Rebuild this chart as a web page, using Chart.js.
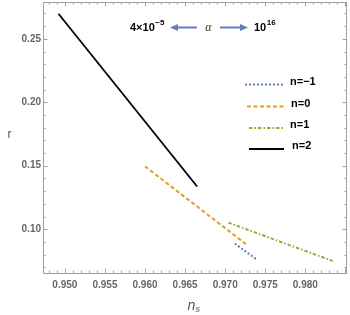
<!DOCTYPE html>
<html>
<head>
<meta charset="utf-8">
<script src="https://cdn.jsdelivr.net/npm/chart.js@4/dist/chart.umd.min.js"></script>
<style>
html,body{margin:0;padding:0;background:#fff;}
#wrap{width:350px;height:315px;}
</style>
</head>
<body>
<div id="wrap"><canvas id="c" width="350" height="315"></canvas></div>
<script>
// ---- data ----
const seriesLabels = ["n=\u22121", "n=0", "n=1", "n=2"];
const nsMinus1 = [0.9712, 0.9739];
const rMinus1  = [0.0887, 0.0763];
const ns0 = [0.9600, 0.9726];
const r0  = [0.1495, 0.0882];
const ns1 = [0.9704, 0.9834];
const r1  = [0.1052, 0.0750];
const ns2 = [0.9492, 0.9665];
const r2  = [0.2697, 0.1336];
const xTicks = [0.950, 0.955, 0.960, 0.965, 0.970, 0.975, 0.980];
const yTicks = [0.10, 0.15, 0.20, 0.25];
const xRange = [0.94727, 0.9852];
const yRange = [0.0655, 0.279];
const alphaLow = "4\u00d710", alphaLowExp = "\u22125";
const alphaHigh = "10", alphaHighExp = "16";

const colors = ["#5e81b5", "#e19c24", "#8fb032", "#000000"];
const dashes = [[2, 2], [4, 2.5], [3.5, 2, 1.5, 2], []];
const widths = [2, 2, 2, 1.8];

function pts(xs, ys) { return xs.map((x, i) => ({x: x, y: ys[i]})); }
const dataSets = [pts(nsMinus1, rMinus1), pts(ns0, r0), pts(ns1, r1), pts(ns2, r2)];

const axisColor = "#a0a0a0";
const tickFont = {family: "'Liberation Sans', Arial, sans-serif", size: 10, weight: "bold"};

const framePlugin = {
  id: "frame",
  afterDraw(chart) {
    const ctx = chart.ctx, a = chart.chartArea;
    const xs = chart.scales.x, ys = chart.scales.y;
    ctx.save();
    ctx.strokeStyle = axisColor;
    ctx.lineWidth = 1;
    // frame
    ctx.strokeRect(a.left + 0.5, a.top + 0.5, a.right - a.left - 1, a.bottom - a.top);
    // ticks
    ctx.beginPath();
    for (let i = 948; i <= 985; i++) {
      const v = i / 1000;
      const px = Math.round(xs.getPixelForValue(v)) + 0.5;
      const major = (i % 5 === 0);
      const L = major ? 4.5 : 2.5;
      ctx.moveTo(px, a.bottom); ctx.lineTo(px, a.bottom - L);
      ctx.moveTo(px, a.top); ctx.lineTo(px, a.top + L);
    }
    for (let i = 7; i <= 27; i++) {
      const v = i / 100;
      const py = Math.round(ys.getPixelForValue(v)) + 0.5;
      const major = (i % 5 === 0);
      const L = major ? 4.5 : 2.5;
      ctx.moveTo(a.left, py); ctx.lineTo(a.left + L, py);
      ctx.moveTo(a.right, py); ctx.lineTo(a.right - L, py);
    }
    ctx.stroke();

    // axis titles
    ctx.fillStyle = "#555";
    ctx.textBaseline = "alphabetic";
    ctx.textAlign = "center";
    ctx.font = "12px 'Liberation Sans', Arial, sans-serif";
    ctx.fillText("r", 9.5, 138);
    ctx.font = "italic 14px 'Liberation Sans', Arial, sans-serif";
    ctx.textAlign = "left";
    ctx.fillText("n", 187.5, 310);
    ctx.font = "italic 9px 'Liberation Sans', Arial, sans-serif";
    ctx.fillText("s", 195.5, 312);

    // alpha annotation
    ctx.fillStyle = "#000";
    ctx.font = "bold 11px 'Liberation Sans', Arial, sans-serif";
    ctx.textBaseline = "alphabetic";
    ctx.fillText(alphaLow, 130, 31);
    let w = ctx.measureText(alphaLow).width;
    ctx.font = "bold 8px 'Liberation Sans', Arial, sans-serif";
    ctx.fillText(alphaLowExp, 130 + w + 0.5, 25);
    ctx.font = "bold 11px 'Liberation Sans', Arial, sans-serif";
    ctx.fillText(alphaHigh, 254, 31);
    w = ctx.measureText(alphaHigh).width;
    ctx.font = "bold 8px 'Liberation Sans', Arial, sans-serif";
    ctx.fillText(alphaHighExp, 254 + w + 0.5, 25);
    ctx.font = "italic 12px 'Liberation Serif', 'Times New Roman', serif";
    ctx.fillStyle = "#333";
    ctx.textAlign = "center";
    ctx.fillText("\u03b1", 208.5, 31);

    // arrows
    const ac = "#5b80bd";
    ctx.strokeStyle = ac; ctx.fillStyle = ac; ctx.lineWidth = 2;
    function arrow(x0, x1, y) {
      const dir = Math.sign(x1 - x0);
      ctx.beginPath();
      ctx.moveTo(x0, y); ctx.lineTo(x1 - dir * 5, y); ctx.stroke();
      ctx.beginPath();
      ctx.moveTo(x1, y); ctx.lineTo(x1 - dir * 8, y - 3.5); ctx.lineTo(x1 - dir * 8, y + 3.5);
      ctx.closePath(); ctx.fill();
    }
    arrow(197, 170, 27.5);
    arrow(220, 248, 27.5);

    // legend
    const rowsY = [84, 106, 127.5, 148.5];
    const lineX = [[245, 283], [247, 284], [249, 285], [249, 284]];
    const labX = [290, 291, 290, 292];
    for (let i = 0; i < 4; i++) {
      ctx.save();
      ctx.strokeStyle = colors[i];
      ctx.lineWidth = widths[i];
      ctx.setLineDash(dashes[i]);
      ctx.beginPath();
      ctx.moveTo(lineX[i][0], rowsY[i] + 0.5);
      ctx.lineTo(lineX[i][1], rowsY[i] + 0.5);
      ctx.stroke();
      ctx.restore();
      ctx.fillStyle = "#000";
      ctx.font = "bold 11px 'Liberation Sans', Arial, sans-serif";
      ctx.textAlign = "left";
      ctx.textBaseline = "middle";
      ctx.fillText(seriesLabels[i], labX[i], rowsY[i] - 2.5);
    }
    ctx.restore();
  }
};

new Chart(document.getElementById("c"), {
  type: "scatter",
  data: {
    datasets: dataSets.map((d, i) => ({
      label: seriesLabels[i],
      data: d,
      showLine: true,
      borderColor: colors[i],
      backgroundColor: colors[i],
      borderDash: dashes[i],
      borderWidth: widths[i],
      pointRadius: 0,
      pointHoverRadius: 0,
      fill: false,
      tension: 0
    }))
  },
  options: {
    responsive: false,
    animation: false,
    events: [],
    layout: {padding: {top: 2, right: 3, left: 0, bottom: 0}},
    plugins: {legend: {display: false}, tooltip: {enabled: false}, title: {display: false}},
    scales: {
      x: {
        type: "linear",
        min: xRange[0], max: xRange[1],
        afterBuildTicks: (s) => { s.ticks = xTicks.map(v => ({value: v})); },
        afterFit: (s) => { s.height = 42; s.paddingLeft = 0; s.paddingRight = 0; },
        grid: {display: true, drawOnChartArea: false, drawTicks: false},
        border: {display: false},
        ticks: {
          padding: 6, maxRotation: 0, autoSkip: false,
          color: "#666", font: tickFont,
          callback: (v) => Number(v).toFixed(3)
        }
      },
      y: {
        type: "linear",
        min: yRange[0], max: yRange[1],
        afterBuildTicks: (s) => { s.ticks = yTicks.map(v => ({value: v})); },
        afterFit: (s) => { s.width = 43; s.paddingTop = 0; s.paddingBottom = 0; },
        grid: {display: true, drawOnChartArea: false, drawTicks: false},
        border: {display: false},
        ticks: {
          padding: 2, autoSkip: false,
          color: "#666", font: tickFont,
          callback: (v) => Number(v).toFixed(2)
        }
      }
    }
  },
  plugins: [framePlugin]
});
</script>
</body>
</html>
